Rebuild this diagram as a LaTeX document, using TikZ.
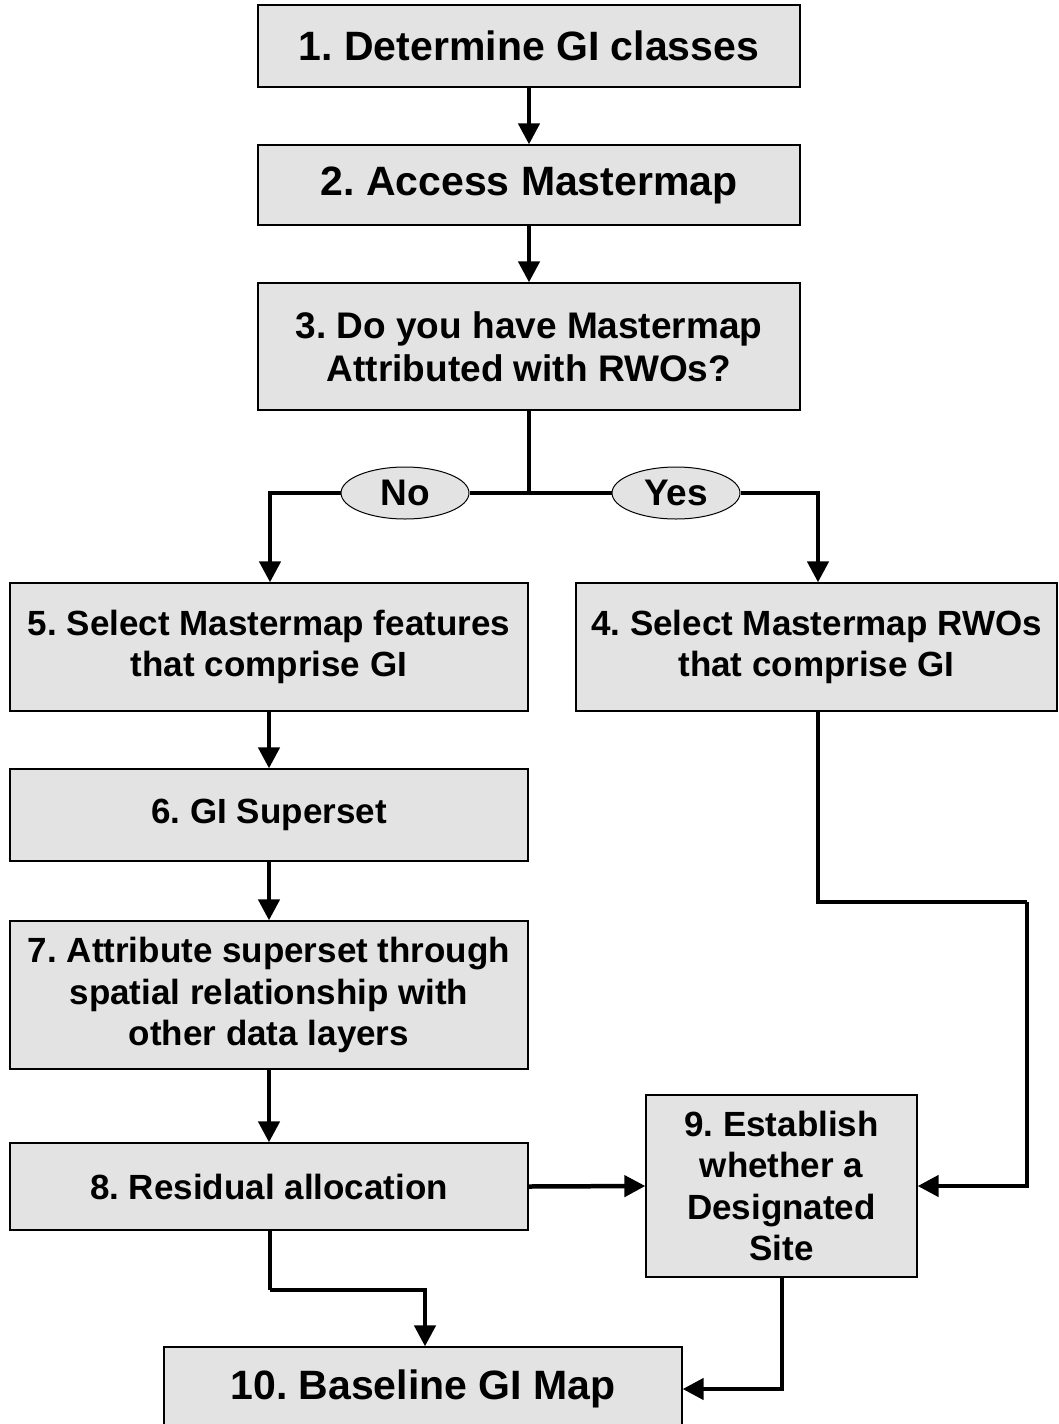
\documentclass[tikz,border=0pt]{standalone}
\usepackage{fontspec}
\setmainfont{Liberation Sans}
\usetikzlibrary{arrows.meta,shapes.geometric,calc}
\definecolor{boxgray}{HTML}{E3E3E3}
\frenchspacing
\begin{document}
\begin{tikzpicture}[x=1pt,y=-1pt,
  box/.style={draw=black,line width=1.3pt,fill=boxgray,rectangle,align=center,inner sep=0pt,
    font=\bfseries\fontsize{35}{41.5}\selectfont},
  bigbox/.style={box,font=\bfseries\fontsize{41}{49}\selectfont},
  oval/.style={draw=black,line width=1pt,fill=boxgray,ellipse,inner sep=0pt,
    minimum width=128pt,minimum height=52pt,font=\bfseries\fontsize{37}{41}\selectfont},
  conn/.style={line width=4.5pt},
  arr/.style={conn,-{Triangle[length=21pt,width=21pt]}}]
\useasboundingbox (0,0) rectangle (1058,1424);
\fill[white] (0,0) rectangle (1058,1424);
% nodes
\node[bigbox,minimum width=542pt,minimum height=82pt] (b1) at (529,46) {1. Determine GI classes};
\node[bigbox,minimum width=542pt,minimum height=80pt] (b2) at (529,185) {2. Access Mastermap};
\node[box,font=\bfseries\fontsize{37}{43}\selectfont,minimum width=542pt,minimum height=127pt] (b3) at (529,346.5) {3. Do you have Mastermap\\Attributed with RWOs?};
\node[box,minimum width=518pt,minimum height=128pt] (b5) at (269,647) {5. Select Mastermap features\\that comprise GI};
\node[box,minimum width=481pt,minimum height=128pt] (b4) at (816.5,647) {4. Select Mastermap RWOs\\that comprise GI};
\node[box,minimum width=518pt,minimum height=92pt] (b6) at (269,815) {6. GI Superset};
\node[box,minimum width=518pt,minimum height=148pt] (b7) at (269,995) {7. Attribute superset through\\spatial relationship with\\other data layers};
\node[box,minimum width=518pt,minimum height=87pt] (b8) at (269,1186.5) {8. Residual allocation};
\node[box,minimum width=271pt,minimum height=182pt] (b9) at (781.5,1186) {9. Establish\\whether a\\Designated\\Site};
\node[bigbox,minimum width=518pt,minimum height=84pt] (b10) at (423,1389) {10. Baseline GI Map};
\node[oval] (no) at (405,493) {No};
\node[oval] (yes) at (676,493) {Yes};
\coordinate (j) at (529,493);
\coordinate (r1) at (818,902);
\coordinate (r2) at (1027,902);
\coordinate (m1) at (270,1290);
% connectors
\draw[arr] (b1.south) -- (b2.north);
\draw[arr] (b2.south) -- (b3.north);
\draw[conn] (b3.south) -- (j);
\draw[conn] (j) -- (no.east);
\draw[conn] (j) -- (yes.west);
\draw[arr] (no.west) -| ($(b5.north)+(1,0)$);
\draw[arr] (yes.east) -| ($(b4.north)+(1.5,0)$);
\draw[arr] (b5.south) -- (b6.north);
\draw[arr] (b6.south) -- (b7.north);
\draw[arr] (b7.south) -- (b8.north);
\draw[conn] (b4.south -| r1) -- (r1) -- (r2);
\draw[arr] (r2) |- (b9.east);
\draw[arr] (b8.east) -- (b9.west);
\draw[conn] (b8.south -| m1) -- (m1);
\draw[arr] (m1) -| ($(b10.north)+(2,0)$);
\draw[arr] ($(b9.south)+(0.5,0)$) |- (b10.east);
\end{tikzpicture}
\end{document}
